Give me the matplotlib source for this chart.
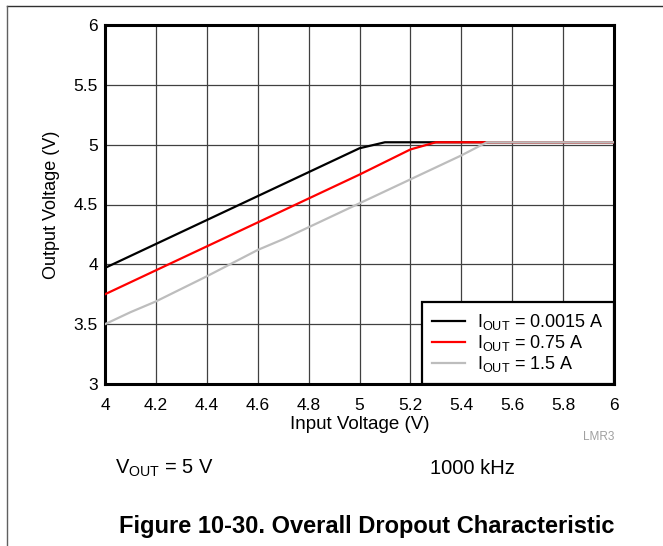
import matplotlib.pyplot as plt
from matplotlib.lines import Line2D

plt.rcParams['font.family'] = ['Liberation Sans', 'DejaVu Sans']

# values
vin_low = [4.0, 4.2, 4.4, 4.6, 4.8, 5.0, 5.1, 6.0]
vout_low = [3.97, 4.17, 4.37, 4.57, 4.77, 4.97, 5.02, 5.02]

vin_mid = [4.0, 4.2, 4.4, 4.6, 4.8, 5.0, 5.2, 5.3, 6.0]
vout_mid = [3.75, 3.95, 4.15, 4.35, 4.55, 4.75, 4.96, 5.02, 5.02]

vin_high = [4.0, 4.1, 4.2, 4.4, 4.6, 4.7, 4.8, 5.0, 5.2, 5.4, 5.5, 6.0]
vout_high = [3.5, 3.6, 3.69, 3.9, 4.12, 4.21, 4.31, 4.51, 4.71, 4.91, 5.02, 5.02]

labels = ["I$_{\\mathregular{OUT}}$ = 0.0015 A",
          "I$_{\\mathregular{OUT}}$ = 0.75 A",
          "I$_{\\mathregular{OUT}}$ = 1.5 A"]
xticks = [4, 4.2, 4.4, 4.6, 4.8, 5, 5.2, 5.4, 5.6, 5.8, 6]
yticks = [3, 3.5, 4, 4.5, 5, 5.5, 6]

fig = plt.figure(figsize=(6.63, 5.46), dpi=100)
ax = fig.add_axes([105 / 663, 1 - 384 / 546, 509 / 663, 359 / 546])

ax.plot(vin_low, vout_low, color="black", lw=1.6, label=labels[0], zorder=3)
ax.plot(vin_mid, vout_mid, color="#ff0000", lw=1.6, label=labels[1], zorder=3)
ax.plot(vin_high, vout_high, color="#bdbdbd", lw=1.6, label=labels[2], zorder=3)

ax.set_xlim(4, 6)
ax.set_ylim(3, 6)
ax.set_xticks(xticks)
ax.set_xticklabels([f"{t:g}" for t in xticks])
ax.set_yticks(yticks)
ax.set_yticklabels([f"{t:g}" for t in yticks])
ax.tick_params(length=0, labelsize=12.5)
ax.tick_params(axis="x", pad=10)
ax.tick_params(axis="y", pad=5)
ax.grid(True, color="#404040", lw=0.9)
for s in ax.spines.values():
    s.set_linewidth(2.2)

ax.set_xlabel("Input Voltage (V)", fontsize=13.5, labelpad=2)
ax.set_ylabel("Output Voltage (V)", fontsize=13, labelpad=10)

leg = ax.legend(loc="lower right", fontsize=13, fancybox=False, framealpha=1,
                edgecolor="black", borderaxespad=0, handlelength=1.8,
                labelspacing=0.05, borderpad=0.55, handletextpad=0.7)
leg.get_frame().set_linewidth(1.6)

fig.text(614 / 663, 1 - 437 / 546, "LMR3", fontsize=8.5, color="#a0a0a0",
         ha="right", va="center")
fig.text(115 / 663, 1 - 468 / 546, "V$_{\\mathregular{OUT}}$ = 5 V", fontsize=14.5,
         ha="left", va="center")
fig.text(430 / 663, 1 - 468 / 546, "1000 kHz", fontsize=14.5, ha="left", va="center")
fig.text(367 / 663, 1 - 527 / 546, "Figure 10-30. Overall Dropout Characteristic",
         fontsize=17, fontweight="bold", ha="center", va="center")

# table border lines around the figure
fig.add_artist(Line2D([7 / 663, 1], [1 - 6 / 546, 1 - 6 / 546], color="#303030", lw=1))
fig.add_artist(Line2D([7 / 663, 7 / 663], [0, 1 - 6 / 546], color="#606060", lw=1))

fig.savefig("out.png", dpi=100)
